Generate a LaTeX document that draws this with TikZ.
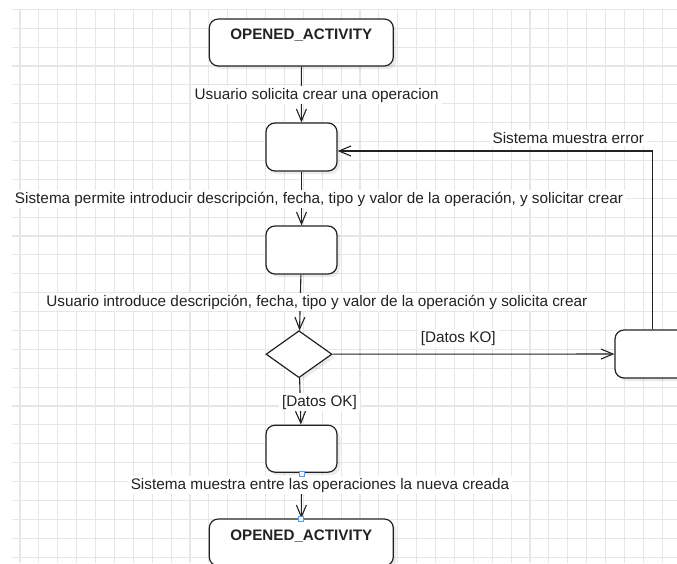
\documentclass[tikz,border=0pt]{standalone}
\usepackage{fontspec}
\setmainfont{Liberation Sans}
\usetikzlibrary{arrows.meta,shadows,shapes.geometric}
\definecolor{gridc}{HTML}{E6E6E6}
\definecolor{ink}{HTML}{222222}
\definecolor{handleline}{HTML}{5B9BEB}
\definecolor{handlefill}{HTML}{EEF4FF}
\begin{document}
\begin{tikzpicture}[x=1pt,y=-1pt,
  font=\fontsize{15.3}{18}\selectfont,
  gridline/.style={draw=gridc, line width=1.1pt},
  state/.style={rectangle, rounded corners=9pt, draw=ink, line width=1.2pt, fill=white,
    inner sep=0pt,
    drop shadow={shadow xshift=3pt, shadow yshift=-3pt, fill=black, opacity=0.08}},
  decision/.style={diamond, draw=ink, line width=1.2pt, fill=white, inner sep=0pt,
    drop shadow={shadow xshift=3pt, shadow yshift=-3pt, fill=black, opacity=0.08}},
  flow/.style={draw=ink, line width=1.1pt, -{Straight Barb[length=12pt,width=10pt]}},
  lab/.style={fill=white, text=ink, inner xsep=3pt, inner ysep=2pt, anchor=base},
  title/.style={text=ink, font=\fontsize{15.2}{18}\selectfont\bfseries, anchor=base, inner sep=0pt},
  handle/.style={rectangle, draw=handleline, fill=handlefill, line width=0.9pt,
    minimum width=5pt, minimum height=5pt, inner sep=0pt}
]
\useasboundingbox (0,0) rectangle (677,563);
\clip (0,0) rectangle (677,563);

% background grid
\foreach \i in {0,...,35}
  \draw[gridline] ({20+18.89*\i},9.3) -- ({20+18.89*\i},563);
\foreach \j in {0,...,29}
  \draw[gridline] (12,{9.3+18.89*\j}) -- (677,{9.3+18.89*\j});

% states
\node[state, minimum width=184pt, minimum height=47pt] (top) at (301.3,42.5) {};
\node[state, minimum width=71pt, minimum height=48pt] (ask) at (301.5,147) {};
\node[state, minimum width=71pt, minimum height=48pt] (enter) at (301.5,250) {};
\node[decision, minimum width=66pt, minimum height=47pt] (check) at (299,354.2) {};
\node[state, minimum width=71pt, minimum height=48pt] (err) at (650.5,354) {};
\node[state, minimum width=71pt, minimum height=47pt] (show) at (301.5,448.7) {};
\node[state, minimum width=184pt, minimum height=47pt] (bottom) at (301.3,542.5) {};

\node[title] (toptitle) at (301.3,39.3) {OPENED\_ACTIVITY};
\node[title] (bottomtitle) at (301.3,540) {OPENED\_ACTIVITY};

% transitions
\coordinate (loop) at (652.7,151);
\draw[flow] (top) -- (ask);
\draw[flow] (ask) -- (enter);
\draw[flow] (enter) -- (check);
\draw[flow] (check) -- (err);
\draw[flow] (check) -- (show);
\draw[flow] (show) -- (bottom);
\draw[flow] (loop |- err.north) -- (loop) -- (ask.east |- loop);

% transition labels
\node[lab] (l1) at (316.7,99) {Usuario solicita crear una operacion};
\node[lab] (l2) at (319,203) {Sistema permite introducir descripción, fecha, tipo y valor de la operación, y solicitar crear};
\node[lab] (l3) at (316.8,306) {Usuario introduce descripción, fecha, tipo y valor de la operación y solicita crear};
\node[lab] (l4) at (458.3,342.3) {[Datos KO]};
\node[lab] (l5) at (319.5,406) {[Datos OK]};
\node[lab] (l6) at (568.3,143.5) {Sistema muestra error};
\node[lab] (l7) at (320,489) {Sistema muestra entre las operaciones la nueva creada};

% end point handles of the last transition
\node[handle] (h1) at (301.5,473.5) {};
\node[handle] (h2) at (301.3,518.5) {};
\end{tikzpicture}
\end{document}
